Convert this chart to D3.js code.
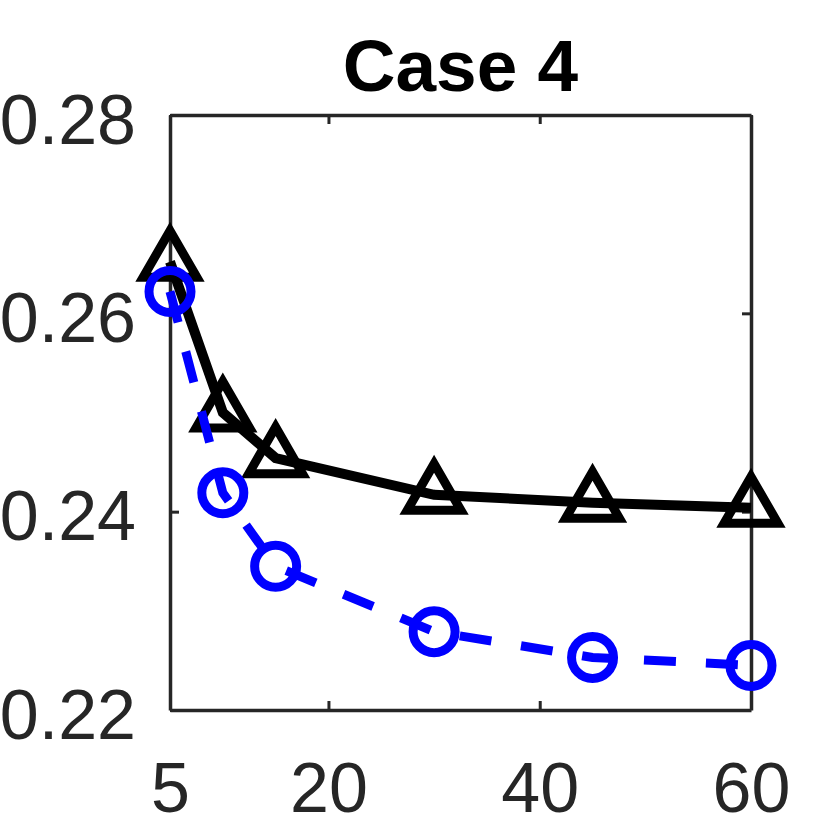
<!DOCTYPE html>
<html>
<head>
<meta charset="utf-8">
<script src="https://cdn.jsdelivr.net/npm/d3@7"></script>
<style>
  body { margin: 0; background: #fff; }
  text { font-family: "Liberation Sans", Arial, Helvetica, sans-serif; }
</style>
</head>
<body>
<div id="chart"></div>
<script>
'use strict';

const xValues = [5, 10, 15, 30, 45, 60]
const triangleSeries = [0.2652, 0.2500, 0.2454, 0.2417, 0.2409, 0.2404]
const circleSeries = [0.2622, 0.2419, 0.2345, 0.2279, 0.2253, 0.2245]
const xTicks = [5, 20, 40, 60]
const yTicks = [0.22, 0.24, 0.26, 0.28]
const title = 'Case 4'

const drawChart = () => {
    let margin = { top: 115, right: 79, bottom: 120, left: 170 },
        width = 830 - margin.left - margin.right,
        height = 830 - margin.top - margin.bottom;

    let svg = d3.select("#chart")
        .append("svg")
        .attr("width", 830)
        .attr("height", 830)
        .append("g")
        .attr("transform", `translate(${margin.left}, ${margin.top})`);

    let xScale = d3.scaleLinear().domain([5, 60]).range([0, width])
    let yScale = d3.scaleLinear().domain([0.22, 0.28]).range([height, 0])

    const axisColor = '#262626'

    let xAxis = svg.append('g')
        .attr('transform', `translate(0, ${height})`)
        .call(d3.axisBottom(xScale).tickValues(xTicks).tickSize(-9).tickSizeOuter(0).tickPadding(52))
    let yAxis = svg.append('g')
        .call(d3.axisLeft(yScale).tickValues(yTicks).tickSize(-9).tickSizeOuter(0).tickPadding(34)
            .tickFormat(d3.format('.2f')))
    let topAxis = svg.append('g')
        .call(d3.axisTop(xScale).tickValues(xTicks).tickSize(-9).tickSizeOuter(0).tickFormat(''))
    let rightAxis = svg.append('g')
        .attr('transform', `translate(${width}, 0)`)
        .call(d3.axisRight(yScale).tickValues(yTicks).tickSize(-9).tickSizeOuter(0).tickFormat(''))

    for (let ax of [xAxis, yAxis, topAxis, rightAxis]) {
        ax.select('.domain').attr('stroke', axisColor).attr('stroke-width', 3.5)
        ax.selectAll('.tick line').attr('stroke', axisColor).attr('stroke-width', 3)
        ax.selectAll('.tick text')
            .attr('fill', axisColor)
            .style('font-size', '70px')
    }
    yAxis.selectAll('.tick text').attr('dy', '0.4em')

    svg.append('text')
        .attr('x', width / 2)
        .attr('y', -24)
        .attr('text-anchor', 'middle')
        .style('font-size', '73px')
        .style('font-weight', 'bold')
        .attr('fill', '#000')
        .text(title)

    let line = d3.line()
        .x((d, i) => xScale(xValues[i]))
        .y(d => yScale(d))

    // black solid series with triangles
    svg.append('path')
        .datum(triangleSeries)
        .attr('fill', 'none')
        .attr('stroke', '#000')
        .attr('stroke-width', 10)
        .attr('d', line)

    svg.selectAll('.tri')
        .data(triangleSeries)
        .enter()
        .append('path')
        .attr('class', 'tri')
        .attr('transform', (d, i) => `translate(${xScale(xValues[i])}, ${yScale(d)})`)
        .attr('d', d3.symbol(d3.symbolTriangle, 1250))
        .attr('fill', 'none')
        .attr('stroke', '#000')
        .attr('stroke-width', 9)

    // blue dashed series with circles
    svg.append('path')
        .datum(circleSeries)
        .attr('fill', 'none')
        .attr('stroke', '#0000ff')
        .attr('stroke-width', 9)
        .attr('stroke-dasharray', '32,30')
        .attr('d', line)

    svg.selectAll('.circ')
        .data(circleSeries)
        .enter()
        .append('circle')
        .attr('class', 'circ')
        .attr('cx', (d, i) => xScale(xValues[i]))
        .attr('cy', d => yScale(d))
        .attr('r', 21)
        .attr('fill', 'none')
        .attr('stroke', '#0000ff')
        .attr('stroke-width', 9)
}

drawChart()
</script>
</body>
</html>
